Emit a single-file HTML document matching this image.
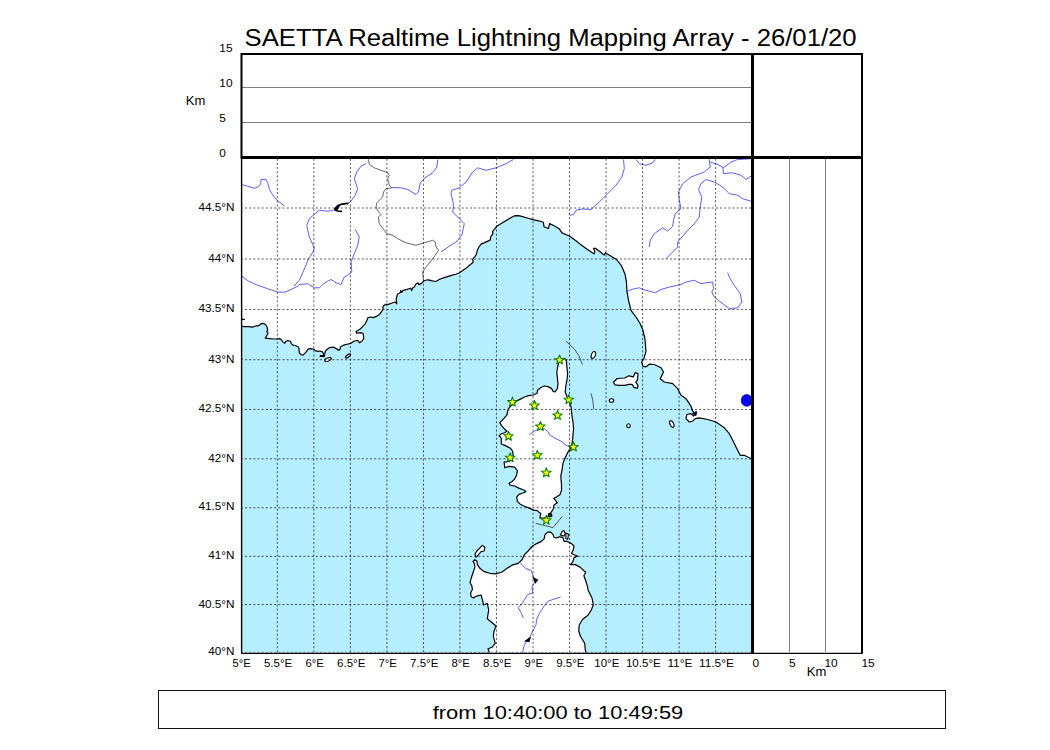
<!DOCTYPE html>
<html><head><meta charset="utf-8"><style>
html,body{margin:0;padding:0;background:#fff;width:1050px;height:750px;overflow:hidden;position:relative}
svg text{font-family:"Liberation Sans",sans-serif;fill:#000}
</style></head><body>
<svg width="1050" height="750" viewBox="0 0 1050 750" style="position:absolute;left:0;top:0">
<defs><clipPath id="mc"><rect x="241.5" y="157.5" width="510.5" height="495"/></clipPath></defs>
<text x="244.50" y="45.70" font-size="23" text-anchor="start" textLength="612.16" lengthAdjust="spacingAndGlyphs" >SAETTA Realtime Lightning Mapping Array - 26/01/20</text>
<g clip-path="url(#mc)">
<rect x="241" y="157" width="511" height="496" fill="#b4eeff"/>
<path d="M236.0 150.0 L758.0 150.0 L758.0 463.0 L758.0 463.0 L752.0 459.5 L749.3 457.8 L744.3 455.3 L740.2 455.3 L736.0 447.0 L732.7 440.3 L729.3 433.7 L724.3 427.8 L716.0 422.0 L707.7 419.5 L699.3 417.8 L695.2 418.7 L692.7 421.2 L689.3 422.0 L686.0 418.7 L686.8 414.5 L691.0 413.7 L693.5 416.2 L695.2 413.7 L692.7 411.2 L691.0 406.2 L686.0 398.7 L681.0 395.3 L677.7 388.7 L672.7 383.7 L664.3 382.0 L660.2 378.7 L663.5 372.0 L661.0 367.8 L654.3 364.5 L649.7 364.1 L646.0 366.8 L642.8 366.2 L641.7 362.0 L643.8 358.8 L646.0 351.3 L644.9 338.5 L642.8 330.0 L640.2 323.7 L636.0 317.0 L631.0 310.3 L628.5 300.3 L626.8 290.3 L627.0 291.7 L626.4 281.8 L625.1 274.3 L621.4 265.7 L616.5 259.5 L611.5 256.4 L605.3 252.7 L604.1 255.1 L600.4 252.0 L595.4 248.3 L593.6 248.3 L594.8 251.4 L594.2 253.9 L586.8 249.0 L580.6 244.6 L576.9 241.5 L569.4 236.0 L562.0 232.9 L559.5 229.1 L554.6 226.0 L549.6 223.6 L548.4 228.5 L544.0 226.7 L543.4 222.3 L538.5 220.8 L532.9 219.6 L527.3 218.0 L519.9 215.9 L515.0 215.5 L520.2 215.8 L514.6 215.8 L511.2 217.5 L506.6 220.3 L502.1 223.1 L497.0 226.0 L494.7 228.8 L492.5 231.6 L493.0 233.9 L490.8 236.7 L490.2 240.1 L485.1 242.4 L481.1 244.1 L478.9 247.0 L477.2 250.4 L476.6 253.8 L474.9 256.6 L472.6 259.4 L473.2 262.3 L470.4 264.5 L467.0 267.4 L463.0 270.2 L459.0 273.0 L455.6 274.2 L449.9 275.9 L444.3 277.6 L439.7 279.3 L435.8 281.5 L429.5 280.4 L431.0 280.4 L427.4 279.8 L423.8 281.0 L421.4 283.4 L419.0 284.6 L417.8 282.8 L416.0 284.0 L414.2 287.0 L412.4 288.2 L411.8 290.6 L410.6 288.2 L407.0 289.4 L402.8 290.6 L401.6 292.4 L400.8 290.6 L400.4 292.4 L397.4 294.2 L396.2 299.0 L396.8 303.8 L395.0 302.0 L391.4 303.2 L388.4 304.4 L385.4 304.4 L383.0 306.2 L383.0 309.2 L381.2 312.2 L379.4 314.6 L376.4 316.4 L373.4 317.6 L370.4 317.0 L368.0 317.6 L366.8 320.6 L365.0 324.2 L362.6 326.6 L360.2 329.0 L356.0 331.4 L356.6 333.2 L360.8 332.6 L363.2 333.8 L363.8 338.6 L362.0 341.0 L359.6 342.8 L357.8 340.4 L354.2 341.0 L350.6 343.4 L348.2 344.0 L343.4 345.2 L340.4 347.0 L339.8 350.0 L337.4 349.4 L338.1 350.0 L336.2 348.6 L333.4 347.1 L329.6 347.6 L325.8 350.5 L324.8 353.3 L324.3 356.7 L320.2 356.5 L320.5 355.5 L323.7 355.7 L323.4 353.3 L322.4 351.9 L320.0 351.0 L317.2 351.4 L315.3 350.5 L313.4 349.0 L309.6 348.6 L307.7 349.5 L306.7 351.4 L304.8 353.3 L302.9 355.2 L300.5 354.3 L299.1 351.9 L299.1 348.6 L298.1 346.7 L295.8 345.7 L292.9 345.2 L291.5 343.8 L290.5 341.4 L287.7 340.5 L285.8 341.4 L284.8 343.3 L282.9 341.9 L281.5 340.0 L280.0 338.6 L277.2 339.0 L273.4 339.0 L269.6 338.6 L265.3 338.1 L266.7 335.7 L268.1 333.3 L266.7 331.4 L267.7 330.5 L267.2 327.6 L265.8 324.8 L263.4 323.3 L261.0 323.8 L258.6 325.7 L255.3 326.2 L252.4 327.1 L248.6 326.7 L243.9 326.7 L241.0 325.7 L236.0 325.7 L236.0 325.7 Z" fill="#fff" stroke="#000" stroke-width="1.2" stroke-linejoin="round"/>
<path d="M564.6 358.4 L566.4 360.8 L567.0 368.0 L567.6 374.0 L567.0 380.0 L565.8 386.0 L565.2 392.0 L567.0 396.8 L569.4 401.6 L571.2 407.6 L571.8 414.8 L573.0 422.0 L573.6 429.2 L573.4 430.0 L572.7 438.4 L572.0 444.0 L570.6 448.2 L567.8 452.4 L565.0 458.0 L562.9 463.6 L562.2 469.2 L560.8 476.2 L561.5 484.6 L561.5 490.2 L560.1 494.4 L557.3 496.5 L553.8 498.6 L555.2 500.0 L557.3 502.8 L554.0 505.0 L553.4 508.4 L552.3 510.7 L550.6 513.0 L548.9 513.6 L548.3 516.4 L544.9 517.9 L542.3 518.1 L540.3 518.4 L540.0 516.4 L540.9 513.6 L539.1 512.4 L537.4 510.7 L533.4 510.1 L530.0 508.4 L524.4 506.3 L520.2 504.2 L517.4 501.4 L516.7 497.2 L518.8 494.4 L523.0 493.0 L525.8 491.6 L524.4 490.2 L518.8 488.1 L514.6 486.0 L510.4 485.3 L509.0 483.2 L511.8 481.8 L514.6 479.0 L516.7 474.8 L517.4 470.6 L514.6 467.1 L509.0 466.4 L504.8 467.8 L504.1 462.2 L509.0 461.5 L511.8 459.4 L513.2 455.2 L512.5 451.0 L510.4 448.2 L504.8 445.4 L501.3 444.0 L501.3 438.4 L499.2 435.6 L501.0 434.0 L504.6 432.8 L507.0 431.0 L504.6 429.2 L501.6 425.6 L499.8 422.6 L501.6 420.8 L504.0 418.4 L507.0 414.8 L507.6 411.2 L509.4 407.6 L511.8 405.2 L514.8 402.8 L517.8 400.4 L521.4 398.6 L525.0 396.8 L528.6 395.6 L533.4 395.0 L537.0 393.2 L537.6 390.2 L540.6 387.8 L544.2 386.0 L547.8 386.6 L551.4 388.4 L553.2 391.4 L555.0 392.0 L557.4 388.4 L558.0 383.6 L557.4 377.6 L556.8 372.8 L557.4 368.0 L558.6 363.2 L560.4 359.6 Z" fill="#fff" stroke="#000" stroke-width="1.2" stroke-linejoin="round"/>
<path d="M474.3 563.4 L473.0 561.5 L474.9 559.7 L476.8 560.9 L477.4 564.6 L479.9 568.3 L483.6 571.4 L489.8 573.3 L496.0 573.9 L502.1 572.0 L507.1 568.3 L512.0 565.2 L518.2 563.4 L522.0 559.7 L524.4 554.7 L528.1 551.0 L532.5 546.0 L536.8 543.6 L541.8 541.1 L544.2 538.6 L544.9 534.9 L547.3 532.4 L550.4 531.8 L552.9 534.3 L554.1 537.4 L556.6 538.0 L559.1 536.8 L562.8 537.4 L564.0 541.1 L567.8 541.7 L571.5 543.6 L574.0 546.0 L573.3 549.8 L571.5 553.5 L574.0 554.7 L577.7 556.0 L574.0 557.8 L572.7 562.1 L570.2 564.6 L575.2 564.6 L580.1 567.1 L583.9 570.8 L585.7 572.0 L583.9 575.8 L585.7 580.7 L587.6 586.9 L588.0 590.0 L592.0 598.0 L593.3 604.7 L591.3 610.0 L588.0 615.3 L582.7 619.3 L579.3 624.7 L578.7 631.3 L580.7 636.7 L584.7 643.3 L585.3 650.0 L586.0 652.7 L586.0 664.7 L489.3 664.7 L489.3 652.0 L488.0 648.7 L492.0 647.3 L495.3 643.3 L493.3 636.7 L494.0 631.3 L496.0 626.0 L491.3 622.0 L487.3 618.7 L488.7 610.0 L487.3 603.3 L483.6 605.0 L482.3 599.3 L481.1 595.0 L478.6 595.6 L474.9 596.8 L473.7 598.0 L471.2 596.8 L470.6 593.1 L472.4 589.4 L471.8 585.7 L470.0 582.6 L471.2 578.2 L472.4 574.5 L473.7 570.8 L474.9 567.1 Z" fill="#fff" stroke="#000" stroke-width="1.2" stroke-linejoin="round"/>
<path d="M613.4 382.2 L617.2 378.5 L624.6 378.0 L628.9 375.8 L633.2 376.9 L635.3 372.6 L638.0 373.7 L637.4 380.1 L635.8 382.2 L638.0 385.4 L637.4 388.1 L634.2 387.6 L632.1 384.4 L628.9 384.4 L624.6 385.4 L619.3 385.4 L615.0 384.9 Z" fill="#fff" stroke="#000" stroke-width="1.2" stroke-linejoin="round"/>
<path d="M548.5 514 L551.5 513.8 L552 516.5 L549 516.8 Z" fill="#333" stroke="#000" stroke-width="1"/>
<line x1="241" y1="319.3" x2="244.8" y2="319.3" stroke="#000" stroke-width="1.2"/>
<path d="M476.1 557.2 L474.9 554.1 L476.8 551.0 L479.9 547.9 L482.3 545.4 L484.8 547.3 L484.2 551.0 L481.1 551.6 L477.4 556.0 Z" fill="#fff" stroke="#000" stroke-width="1.1" stroke-linejoin="round"/>
<path d="M560.3 534.9 L562.2 531.2 L564.0 530.6 L565.3 533.7 L564.0 536.1 Z" fill="#fff" stroke="#000" stroke-width="1.1" stroke-linejoin="round"/>
<path d="M565.9 533.0 L568.4 534.3 L567.8 539.2 L565.9 538.6 Z" fill="#fff" stroke="#000" stroke-width="1.1" stroke-linejoin="round"/>
<ellipse cx="593.4" cy="355" rx="2" ry="3.6" transform="rotate(20 593.4 355)" fill="#fff" stroke="#000" stroke-width="1.1"/>
<ellipse cx="611.5" cy="400.5" rx="2.2" ry="1.8" fill="#fff" stroke="#000" stroke-width="1.1"/>
<ellipse cx="628.5" cy="425.7" rx="1.8" ry="2" fill="#fff" stroke="#000" stroke-width="1.1"/>
<ellipse cx="671.8" cy="424" rx="1.8" ry="3.6" transform="rotate(-25 671.8 424)" fill="#fff" stroke="#000" stroke-width="1.1"/>
<ellipse cx="328" cy="359.5" rx="3.5" ry="1.5" transform="rotate(-20 328 359.5)" fill="#fff" stroke="#000" stroke-width="1.1"/>
<ellipse cx="348" cy="356" rx="3" ry="1.2" transform="rotate(-35 348 356)" fill="#fff" stroke="#000" stroke-width="1.1"/>
<path d="M241.8 184.5 L247.7 186.2 L254.3 188.3 L258.5 186.7 L260.7 183.7 L261.0 179.5 L265.7 179.2 L267.7 182.8 L269.3 188.7 L271.8 193.7 L276.8 200.0 L284.0 205.7" fill="none" stroke="#4b4bff" stroke-width="0.9" stroke-linejoin="round"/>
<path d="M366.0 163.7 L361.0 166.2 L356.8 172.0 L354.3 178.7 L356.0 183.7 L357.7 188.7 L355.2 195.3 L350.2 202.0 L347.7 203.7" fill="none" stroke="#4b4bff" stroke-width="0.9" stroke-linejoin="round"/>
<path d="M333.5 210.3 L327.7 211.2 L319.3 210.3 L314.3 214.5 L309.3 218.7 L306.8 225.3 L307.7 230.3 L309.3 237.0 L314.3 247.8 L312.7 252.8 L308.5 258.7 L305.2 267.0 L299.3 280.3 L294.0 286.0" fill="none" stroke="#4b4bff" stroke-width="0.9" stroke-linejoin="round"/>
<path d="M241.8 276.2 L248.5 281.2 L257.7 285.3 L267.7 288.7 L277.7 292.0 L284.3 292.3 L291.0 289.5 L297.7 286.2 L299.3 284.5 L307.7 283.7 L314.3 287.8 L319.3 287.8 L322.7 284.5 L327.7 281.2 L331.0 279.5 L333.5 281.2 L336.0 282.8 L341.0 284.5 L344.3 277.0 L347.7 275.3 L351.8 272.0 L351.0 262.0 L354.3 253.7 L357.7 245.3 L359.3 237.0 L355.2 229.5" fill="none" stroke="#4b4bff" stroke-width="0.9" stroke-linejoin="round"/>
<path d="M437.7 159.5 L436.8 167.0 L432.7 172.8 L426.0 177.0 L420.2 182.8 L418.5 192.0 L416.0 194.5 L407.7 189.5 L401.0 187.8 L391.8 187.5" fill="none" stroke="#4b4bff" stroke-width="0.9" stroke-linejoin="round"/>
<path d="M513.5 159.5 L506.0 163.7 L496.0 167.8 L486.0 170.3 L477.7 167.8 L472.7 172.0 L466.0 182.0 L459.3 187.8 L451.8 190.3 L451.0 193.7 L452.7 200.3 L453.5 207.0 L452.7 212.0 L457.7 217.0 L464.3 223.7 L461.8 235.3 L456.0 242.0 L449.3 246.2 L441.0 252.0" fill="none" stroke="#4b4bff" stroke-width="0.9" stroke-linejoin="round"/>
<path d="M568.5 213.7 L570.2 215.3 L573.5 214.5 L576.0 210.3 L582.7 209.0 L591.0 209.5 L599.3 202.0 L607.7 193.7 L616.0 185.3 L621.8 177.0 L624.3 168.7 L623.5 159.5" fill="none" stroke="#4b4bff" stroke-width="0.9" stroke-linejoin="round"/>
<path d="M636.0 159.5 L639.3 163.7 L646.0 165.3 L652.7 162.8 L655.2 159.5" fill="none" stroke="#4b4bff" stroke-width="0.9" stroke-linejoin="round"/>
<path d="M709.3 157.0 L709.3 159.5 L710.2 167.0 L704.3 172.0 L691.0 177.0 L682.7 183.7 L678.5 192.0 L679.3 200.3 L681.0 208.7 L675.2 213.7 L673.5 220.3 L672.7 226.2 L667.7 231.2 L662.7 227.8 L654.3 233.7 L650.2 240.3 L649.3 247.0" fill="none" stroke="#4b4bff" stroke-width="0.9" stroke-linejoin="round"/>
<path d="M710.2 162.0 L716.0 163.7 L722.7 167.0 L723.5 173.7 L732.7 172.8 L741.0 175.3 L746.0 179.5 L751.0 176.2" fill="none" stroke="#4b4bff" stroke-width="0.9" stroke-linejoin="round"/>
<path d="M723.5 167.8 L731.0 162.0 L737.7 159.5 L751.0 158.7" fill="none" stroke="#4b4bff" stroke-width="0.9" stroke-linejoin="round"/>
<path d="M666.0 258.7 L677.7 247.0 L677.7 242.0 L687.7 230.3 L694.3 223.7 L699.3 217.0 L700.2 207.0 L701.8 197.0 L698.5 189.5 L701.0 183.7 L706.0 179.5 L714.3 182.0 L722.7 187.0 L729.3 193.7 L737.7 195.3 L742.7 198.7 L751.0 201.2" fill="none" stroke="#4b4bff" stroke-width="0.9" stroke-linejoin="round"/>
<path d="M727.7 272.8 L729.3 277.0 L731.8 281.2" fill="none" stroke="#4b4bff" stroke-width="0.9" stroke-linejoin="round"/>
<path d="M626.8 291.2 L634.3 288.7 L639.3 287.8 L642.7 289.5 L649.3 291.2 L655.2 292.8 L661.0 289.5 L669.3 287.0 L677.7 285.3 L682.7 283.7 L686.0 282.0 L694.3 280.3 L697.7 282.0 L701.0 283.7 L706.0 282.8 L712.7 282.0 L713.5 288.7 L711.8 292.0 L714.3 297.0 L722.7 303.7 L729.3 308.7 L737.7 307.8 L741.8 302.0 L740.2 293.7 L734.3 285.3 L731.8 281.2" fill="none" stroke="#4b4bff" stroke-width="0.9" stroke-linejoin="round"/>
<path d="M529.3 434.5 L534.3 431.2 L539.3 428.7 L544.3 428.7 L548.5 432.0 L549.3 434.5 L554.3 437.8 L561.0 441.2 L566.0 445.3 L571.0 447.8" fill="none" stroke="#4b4bff" stroke-width="0.9" stroke-linejoin="round"/>
<path d="M519.8 562.5 L525.9 568.6 L531.1 570.3 L533.7 577.3 L535.4 580.7 L532.0 586.8 L532.8 592.8 L527.6 594.6 L522.4 603.2 L518.1 607.6 L521.6 613.6 L523.3 618.0" fill="none" stroke="#4b4bff" stroke-width="0.9" stroke-linejoin="round"/>
<path d="M560.6 597.2 L560.0 597.3 L553.3 599.3 L548.0 601.3 L544.0 606.0 L540.7 611.3 L538.7 614.7 L536.7 619.3 L536.0 624.7 L534.0 628.7 L531.3 634.0 L529.3 638.0 L526.0 642.0 L524.0 646.0 L522.7 652.0 L522.0 655.3" fill="none" stroke="#4b4bff" stroke-width="0.9" stroke-linejoin="round"/>
<path d="M368.5 157.0 L368.5 159.5 L369.3 164.5 L374.3 167.8 L381.0 170.3 L387.7 172.8 L389.3 175.3 L387.7 178.7 L389.3 185.3 L391.8 187.8 L386.0 188.7 L383.5 192.0 L382.7 197.0 L376.8 202.8 L376.0 207.0 L378.5 212.0 L381.0 214.5 L378.5 217.0 L379.3 223.7 L384.3 230.3 L386.8 233.7 L392.7 235.3 L397.7 238.7 L406.0 242.8 L416.0 245.3 L424.3 242.8 L432.7 240.3 L435.2 242.0 L436.0 247.0 L438.5 250.3 L435.2 255.3 L430.2 262.0 L426.0 267.0 L422.7 272.0 L423.5 281.2" fill="none" stroke="#555" stroke-width="0.9"/>
<path d="M347.9 203.4 L342.1 204.1 L337.6 205.7 L334.9 208.7 L335.3 210.2 L338 211 L341.4 211.4" fill="none" stroke="#000" stroke-width="1.6" stroke-linecap="round" stroke-linejoin="round"/>
<path d="M334.8 209.8 L336.8 206.3 L339.8 205 L338.5 207.6 L336.6 210.2 Z" fill="#000080" stroke="#000" stroke-width="1.1" stroke-linejoin="round"/>
<path d="M692.5 413.5 L696.5 411.5 L696 415.5 Z" fill="#0000a0" stroke="#000" stroke-width="1"/>
<path d="M533.5 578 L537.5 580 L535.5 582.5 Z" fill="#0000a0" stroke="#000" stroke-width="1.2"/>
<path d="M525.5 641 L530 638 L529 641.5 Z" fill="#0000a0" stroke="#000" stroke-width="1.2"/>
<line x1="277.32" y1="652.4" x2="277.32" y2="150" stroke="#000" stroke-width="0.65" stroke-dasharray="2.0833 2.0833"/>
<line x1="313.85" y1="652.4" x2="313.85" y2="150" stroke="#000" stroke-width="0.65" stroke-dasharray="2.0833 2.0833"/>
<line x1="350.38" y1="652.4" x2="350.38" y2="150" stroke="#000" stroke-width="0.65" stroke-dasharray="2.0833 2.0833"/>
<line x1="386.90" y1="652.4" x2="386.90" y2="150" stroke="#000" stroke-width="0.65" stroke-dasharray="2.0833 2.0833"/>
<line x1="423.43" y1="652.4" x2="423.43" y2="150" stroke="#000" stroke-width="0.65" stroke-dasharray="2.0833 2.0833"/>
<line x1="459.95" y1="652.4" x2="459.95" y2="150" stroke="#000" stroke-width="0.65" stroke-dasharray="2.0833 2.0833"/>
<line x1="496.48" y1="652.4" x2="496.48" y2="150" stroke="#000" stroke-width="0.65" stroke-dasharray="2.0833 2.0833"/>
<line x1="533.00" y1="652.4" x2="533.00" y2="150" stroke="#000" stroke-width="0.65" stroke-dasharray="2.0833 2.0833"/>
<line x1="569.52" y1="652.4" x2="569.52" y2="150" stroke="#000" stroke-width="0.65" stroke-dasharray="2.0833 2.0833"/>
<line x1="606.05" y1="652.4" x2="606.05" y2="150" stroke="#000" stroke-width="0.65" stroke-dasharray="2.0833 2.0833"/>
<line x1="642.58" y1="652.4" x2="642.58" y2="150" stroke="#000" stroke-width="0.65" stroke-dasharray="2.0833 2.0833"/>
<line x1="679.10" y1="652.4" x2="679.10" y2="150" stroke="#000" stroke-width="0.65" stroke-dasharray="2.0833 2.0833"/>
<line x1="715.62" y1="652.4" x2="715.62" y2="150" stroke="#000" stroke-width="0.65" stroke-dasharray="2.0833 2.0833"/>
<line x1="240.8" y1="652.40" x2="760" y2="652.40" stroke="#000" stroke-width="0.65" stroke-dasharray="2.0833 2.0833"/>
<line x1="240.8" y1="604.54" x2="760" y2="604.54" stroke="#000" stroke-width="0.65" stroke-dasharray="2.0833 2.0833"/>
<line x1="240.8" y1="556.33" x2="760" y2="556.33" stroke="#000" stroke-width="0.65" stroke-dasharray="2.0833 2.0833"/>
<line x1="240.8" y1="507.75" x2="760" y2="507.75" stroke="#000" stroke-width="0.65" stroke-dasharray="2.0833 2.0833"/>
<line x1="240.8" y1="458.79" x2="760" y2="458.79" stroke="#000" stroke-width="0.65" stroke-dasharray="2.0833 2.0833"/>
<line x1="240.8" y1="409.45" x2="760" y2="409.45" stroke="#000" stroke-width="0.65" stroke-dasharray="2.0833 2.0833"/>
<line x1="240.8" y1="359.71" x2="760" y2="359.71" stroke="#000" stroke-width="0.65" stroke-dasharray="2.0833 2.0833"/>
<line x1="240.8" y1="309.56" x2="760" y2="309.56" stroke="#000" stroke-width="0.65" stroke-dasharray="2.0833 2.0833"/>
<line x1="240.8" y1="259.00" x2="760" y2="259.00" stroke="#000" stroke-width="0.65" stroke-dasharray="2.0833 2.0833"/>
<line x1="240.8" y1="208.01" x2="760" y2="208.01" stroke="#000" stroke-width="0.65" stroke-dasharray="2.0833 2.0833"/>
<path d="M566.0 341.2 L574.5 349.2 L578.8 355.6 L582.5 364.6" fill="none" stroke="#444" stroke-width="0.9"/>
<path d="M591.0 393.4 L592.6 399.3 L593.7 408.9" fill="none" stroke="#444" stroke-width="0.9"/>
<path d="M535.7 523.3 L552.9 527.6 L562.3 516.4" fill="none" stroke="#444" stroke-width="0.9"/>
<path d="M512.4 397.1 L513.6 400.4 L517.2 400.6 L514.4 402.7 L515.3 406.1 L512.4 404.2 L509.5 406.1 L510.4 402.7 L507.6 400.6 L511.2 400.4 Z" fill="#ffff00" stroke="#008000" stroke-width="1.05" stroke-linejoin="round"/>
<path d="M559.6 354.9 L560.8 358.2 L564.4 358.4 L561.6 360.5 L562.5 363.9 L559.6 362.0 L556.7 363.9 L557.6 360.5 L554.8 358.4 L558.4 358.2 Z" fill="#ffff00" stroke="#008000" stroke-width="1.05" stroke-linejoin="round"/>
<path d="M568.7 394.8 L569.9 398.1 L573.5 398.3 L570.7 400.4 L571.6 403.8 L568.7 401.9 L565.8 403.8 L566.7 400.4 L563.9 398.3 L567.5 398.1 Z" fill="#ffff00" stroke="#008000" stroke-width="1.05" stroke-linejoin="round"/>
<path d="M534.5 400.5 L535.7 403.8 L539.3 404.0 L536.5 406.1 L537.4 409.5 L534.5 407.6 L531.6 409.5 L532.5 406.1 L529.7 404.0 L533.3 403.8 Z" fill="#ffff00" stroke="#008000" stroke-width="1.05" stroke-linejoin="round"/>
<path d="M557.5 410.4 L558.7 413.7 L562.3 413.9 L559.5 416.0 L560.4 419.4 L557.5 417.5 L554.6 419.4 L555.5 416.0 L552.7 413.9 L556.3 413.7 Z" fill="#ffff00" stroke="#008000" stroke-width="1.05" stroke-linejoin="round"/>
<path d="M540.4 421.5 L541.6 424.8 L545.2 425.0 L542.4 427.1 L543.3 430.5 L540.4 428.6 L537.5 430.5 L538.4 427.1 L535.6 425.0 L539.2 424.8 Z" fill="#ffff00" stroke="#008000" stroke-width="1.05" stroke-linejoin="round"/>
<path d="M508.5 431.2 L509.7 434.5 L513.3 434.7 L510.5 436.8 L511.4 440.2 L508.5 438.3 L505.6 440.2 L506.5 436.8 L503.7 434.7 L507.3 434.5 Z" fill="#ffff00" stroke="#008000" stroke-width="1.05" stroke-linejoin="round"/>
<path d="M573.5 442.0 L574.7 445.3 L578.3 445.5 L575.5 447.6 L576.4 451.0 L573.5 449.1 L570.6 451.0 L571.5 447.6 L568.7 445.5 L572.3 445.3 Z" fill="#ffff00" stroke="#008000" stroke-width="1.05" stroke-linejoin="round"/>
<path d="M537.3 450.3 L538.5 453.6 L542.1 453.8 L539.3 455.9 L540.2 459.3 L537.3 457.4 L534.4 459.3 L535.3 455.9 L532.5 453.8 L536.1 453.6 Z" fill="#ffff00" stroke="#008000" stroke-width="1.05" stroke-linejoin="round"/>
<path d="M510.2 452.8 L511.4 456.1 L515.0 456.3 L512.2 458.4 L513.1 461.8 L510.2 459.9 L507.3 461.8 L508.2 458.4 L505.4 456.3 L509.0 456.1 Z" fill="#ffff00" stroke="#008000" stroke-width="1.05" stroke-linejoin="round"/>
<path d="M546.3 467.8 L547.5 471.1 L551.1 471.3 L548.3 473.4 L549.2 476.8 L546.3 474.9 L543.4 476.8 L544.3 473.4 L541.5 471.3 L545.1 471.1 Z" fill="#ffff00" stroke="#008000" stroke-width="1.05" stroke-linejoin="round"/>
<path d="M546.3 515.3 L547.5 518.6 L551.1 518.8 L548.3 520.9 L549.2 524.3 L546.3 522.4 L543.4 524.3 L544.3 520.9 L541.5 518.8 L545.1 518.6 Z" fill="#ffff00" stroke="#008000" stroke-width="1.05" stroke-linejoin="round"/>
<ellipse cx="746.8" cy="400.4" rx="5.6" ry="5.9" fill="#0000ff" stroke="#00008b" stroke-width="0.7"/>
</g>
<line x1="242" y1="87.5" x2="752" y2="87.5" stroke="#808080" stroke-width="1"/>
<line x1="242" y1="122.5" x2="752" y2="122.5" stroke="#808080" stroke-width="1"/>
<line x1="789.5" y1="158" x2="789.5" y2="652" stroke="#808080" stroke-width="1"/>
<line x1="825.5" y1="158" x2="825.5" y2="652" stroke="#808080" stroke-width="1"/>
<rect x="241.5" y="54" width="620.5" height="103.5" fill="none" stroke="#000" stroke-width="2"/>
<line x1="752.5" y1="54" x2="752.5" y2="653" stroke="#000" stroke-width="3"/>
<line x1="241" y1="157.5" x2="862" y2="157.5" stroke="#000" stroke-width="3"/>
<line x1="241.6" y1="157" x2="241.6" y2="653" stroke="#000" stroke-width="1.4"/>
<line x1="241" y1="653.4" x2="862" y2="653.4" stroke="#000" stroke-width="1.3"/>
<line x1="862" y1="157" x2="862" y2="653.8" stroke="#000" stroke-width="2"/>
<text x="219.30" y="52.00" font-size="10.4" text-anchor="start" textLength="13.22" lengthAdjust="spacingAndGlyphs" >15</text>
<text x="219.30" y="87.00" font-size="10.4" text-anchor="start" textLength="13.22" lengthAdjust="spacingAndGlyphs" >10</text>
<text x="219.30" y="122.00" font-size="10.4" text-anchor="start" textLength="6.61" lengthAdjust="spacingAndGlyphs" >5</text>
<text x="219.30" y="157.00" font-size="10.4" text-anchor="start" textLength="6.61" lengthAdjust="spacingAndGlyphs" >0</text>
<text x="185.70" y="104.80" font-size="12" text-anchor="start" textLength="19.56" lengthAdjust="spacingAndGlyphs" >Km</text>
<text x="234.50" y="655.00" font-size="10.4" text-anchor="end" textLength="26.19" lengthAdjust="spacingAndGlyphs" >40°N</text>
<text x="234.50" y="608.00" font-size="10.4" text-anchor="end" textLength="36.09" lengthAdjust="spacingAndGlyphs" >40.5°N</text>
<text x="234.50" y="559.00" font-size="10.4" text-anchor="end" textLength="26.19" lengthAdjust="spacingAndGlyphs" >41°N</text>
<text x="234.50" y="510.00" font-size="10.4" text-anchor="end" textLength="36.09" lengthAdjust="spacingAndGlyphs" >41.5°N</text>
<text x="234.50" y="462.00" font-size="10.4" text-anchor="end" textLength="26.19" lengthAdjust="spacingAndGlyphs" >42°N</text>
<text x="234.50" y="412.00" font-size="10.4" text-anchor="end" textLength="36.09" lengthAdjust="spacingAndGlyphs" >42.5°N</text>
<text x="234.50" y="363.00" font-size="10.4" text-anchor="end" textLength="26.19" lengthAdjust="spacingAndGlyphs" >43°N</text>
<text x="234.50" y="312.00" font-size="10.4" text-anchor="end" textLength="36.09" lengthAdjust="spacingAndGlyphs" >43.5°N</text>
<text x="234.50" y="262.00" font-size="10.4" text-anchor="end" textLength="26.19" lengthAdjust="spacingAndGlyphs" >44°N</text>
<text x="234.50" y="211.00" font-size="10.4" text-anchor="end" textLength="36.09" lengthAdjust="spacingAndGlyphs" >44.5°N</text>
<text x="241.60" y="667.00" font-size="10.4" text-anchor="middle" textLength="18.38" lengthAdjust="spacingAndGlyphs" >5°E</text>
<text x="278.12" y="667.00" font-size="10.4" text-anchor="middle" textLength="28.28" lengthAdjust="spacingAndGlyphs" >5.5°E</text>
<text x="314.65" y="667.00" font-size="10.4" text-anchor="middle" textLength="18.38" lengthAdjust="spacingAndGlyphs" >6°E</text>
<text x="351.18" y="667.00" font-size="10.4" text-anchor="middle" textLength="28.28" lengthAdjust="spacingAndGlyphs" >6.5°E</text>
<text x="387.70" y="667.00" font-size="10.4" text-anchor="middle" textLength="18.38" lengthAdjust="spacingAndGlyphs" >7°E</text>
<text x="424.23" y="667.00" font-size="10.4" text-anchor="middle" textLength="28.28" lengthAdjust="spacingAndGlyphs" >7.5°E</text>
<text x="460.75" y="667.00" font-size="10.4" text-anchor="middle" textLength="18.38" lengthAdjust="spacingAndGlyphs" >8°E</text>
<text x="497.28" y="667.00" font-size="10.4" text-anchor="middle" textLength="28.28" lengthAdjust="spacingAndGlyphs" >8.5°E</text>
<text x="533.80" y="667.00" font-size="10.4" text-anchor="middle" textLength="18.38" lengthAdjust="spacingAndGlyphs" >9°E</text>
<text x="570.32" y="667.00" font-size="10.4" text-anchor="middle" textLength="28.28" lengthAdjust="spacingAndGlyphs" >9.5°E</text>
<text x="606.85" y="667.00" font-size="10.4" text-anchor="middle" textLength="24.98" lengthAdjust="spacingAndGlyphs" >10°E</text>
<text x="643.38" y="667.00" font-size="10.4" text-anchor="middle" textLength="34.89" lengthAdjust="spacingAndGlyphs" >10.5°E</text>
<text x="679.90" y="667.00" font-size="10.4" text-anchor="middle" textLength="24.98" lengthAdjust="spacingAndGlyphs" >11°E</text>
<text x="716.42" y="667.00" font-size="10.4" text-anchor="middle" textLength="34.89" lengthAdjust="spacingAndGlyphs" >11.5°E</text>
<text x="752.50" y="667.00" font-size="10.4" text-anchor="start" textLength="6.61" lengthAdjust="spacingAndGlyphs" >0</text>
<text x="789.00" y="667.00" font-size="10.4" text-anchor="start" textLength="6.61" lengthAdjust="spacingAndGlyphs" >5</text>
<text x="824.50" y="667.00" font-size="10.4" text-anchor="start" textLength="13.22" lengthAdjust="spacingAndGlyphs" >10</text>
<text x="861.50" y="667.00" font-size="10.4" text-anchor="start" textLength="13.22" lengthAdjust="spacingAndGlyphs" >15</text>
<text x="806.80" y="675.80" font-size="12" text-anchor="start" textLength="19.56" lengthAdjust="spacingAndGlyphs" >Km</text>
<rect x="158.5" y="690.5" width="787" height="38" fill="none" stroke="#111" stroke-width="1"/>
<text x="432.70" y="718.50" font-size="18.9" text-anchor="start" textLength="250.56" lengthAdjust="spacingAndGlyphs" >from 10:40:00 to 10:49:59</text>
</svg>
</body></html>
